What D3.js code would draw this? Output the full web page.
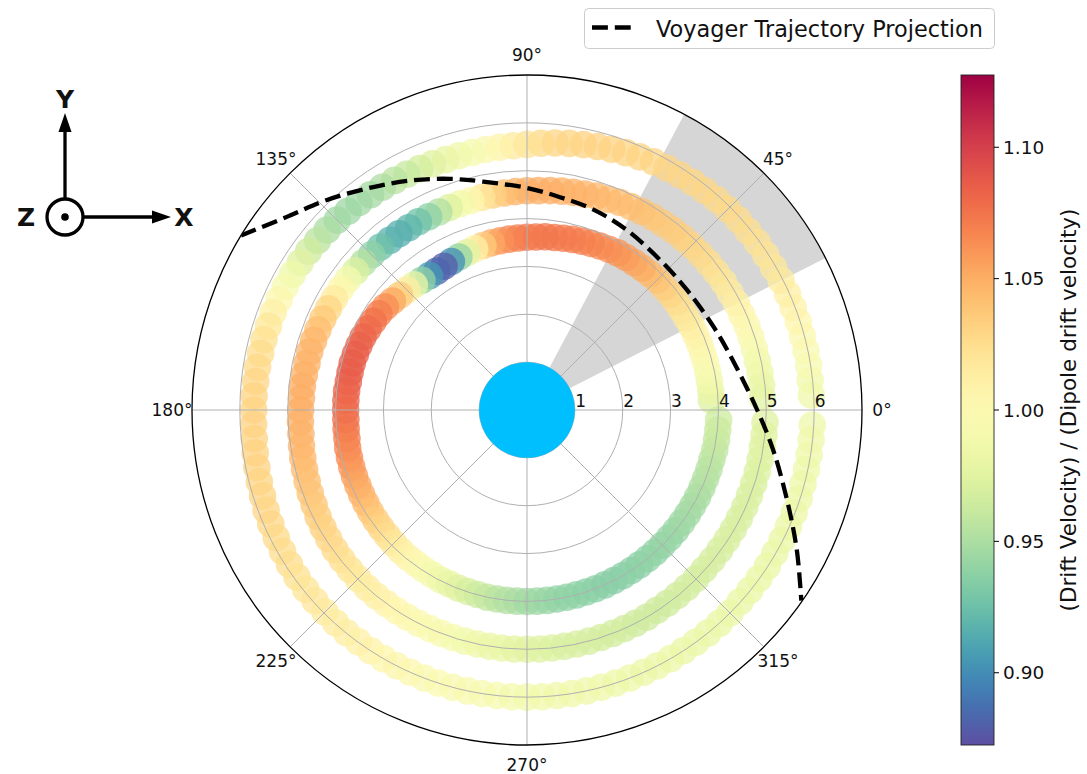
<!DOCTYPE html>
<html>
<head>
<meta charset="utf-8">
<script src="https://cdn.jsdelivr.net/npm/d3@7"></script>
<style>
  body { margin: 0; background: #fff; }
  text { font-family: "DejaVu Sans", sans-serif; fill: #111; }
</style>
</head>
<body>
<svg id="chart" width="1087" height="774"></svg>
<script>
// ---- data -------------------------------------------------------------
// azimuth of each tracked guiding centre (degrees, counter-clockwise from +X)
const ANGLES = [3,6,9,12,15,18,21,24,27,30,33,36,39,42,45,48,51,54,57,60,63,66,69,72,75,78,81,84,87,90,
  93,96,99,102,105,108,111,114,117,120,123,126,129,132,135,138,141,144,147,150,153,156,159,162,165,168,171,174,177,180,
  183,186,189,192,195,198,201,204,207,210,213,216,219,222,225,228,231,234,237,240,243,246,249,252,255,258,261,264,267,270,
  273,276,279,282,285,288,291,294,297,300,303,306,309,312,315,318,321,324,327,330,333,336,339,342,345,348,351,354,357];

// radial distance of each drift shell
const INNER_R = [3.86,3.86,3.86,3.86,3.86,3.86,3.86,3.86,3.86,
  3.85,3.85,3.85,3.85,
  3.84,3.84,3.83,3.82,3.81,3.80,3.79,
  3.77,3.75,3.73,3.71,3.69,3.67,3.65,3.64,3.62,3.61,
  3.60,3.59,3.58,3.57,3.56,3.54,3.52,3.50,3.48,3.47,
  3.46,3.47,3.49,3.52,3.55,3.58,3.62,3.66,3.69,3.71,
  3.73,3.75,3.76,3.77,3.78,3.78,3.78,3.79,3.79,3.79,
  3.79,3.80,3.81,3.83,3.84,3.85,3.86,3.87,3.88,3.89,
  3.90,3.91,3.92,3.93,3.94,3.95,3.96,3.96,3.97,3.97,
  3.98,3.98,3.99,3.99,3.99,
  4.00,4.00,4.00,4.00,4.00,4.00,4.00,4.00,4.00,4.00,
  4.00,4.00,4.00,4.00,4.00,4.00,4.00,4.00,4.00,4.00,
  4.00,4.00,4.00,4.00,4.00,4.00,4.00,4.00,4.00,4.00,
  4.01,4.01,4.01,4.01];
const MIDDLE_R = [4.93,4.93,4.93,4.92,4.92,4.92,4.92,4.91,4.91,4.90,
  4.90,4.89,4.88,4.87,4.86,4.85,4.84,4.82,4.81,4.79,
  4.77,4.75,4.72,4.70,4.67,4.65,4.63,4.61,4.59,4.58,
  4.57,4.56,4.55,4.54,4.53,4.53,4.53,4.53,4.53,4.54,
  4.54,4.55,4.56,4.58,4.59,4.60,4.61,4.63,4.64,4.65,
  4.66,4.67,4.68,4.69,4.70,4.70,4.71,4.72,4.72,4.73,
  4.74,4.75,4.77,4.79,4.81,4.83,4.85,4.87,4.90,4.92,
  4.94,4.96,4.97,4.98,4.99,5.00,5.00,5.00,5.00,5.00,
  5.00,5.00,5.00,5.00,5.00,5.00,5.00,5.00,5.00,5.00,
  5.00,5.00,5.00,5.00,5.00,5.00,5.00,5.00,5.00,5.00,
  4.99,4.99,4.99,4.99,4.99,4.98,4.98,4.98,4.98,4.98,
  4.98,4.98,4.98,4.98,4.98,4.98,4.98,4.98,4.98];
const OUTER_R = [5.95,5.95,5.96,5.96,5.96,5.96,5.96,5.96,5.96,5.95,
  5.95,5.95,5.94,5.94,5.93,5.92,5.90,5.88,5.86,5.84,
  5.82,5.79,5.76,5.73,5.70,5.67,5.64,5.61,5.58,5.55,
  5.53,5.52,5.51,5.50,5.50,5.50,5.51,5.52,5.53,5.54,
  5.55,5.56,5.58,5.59,5.61,5.62,5.63,5.64,5.65,5.66,
  5.67,5.67,5.68,5.68,5.69,5.69,5.70,5.70,5.71,5.71,
  5.72,5.73,5.75,5.77,5.79,5.81,5.84,5.86,5.88,5.90,
  5.92,5.94,5.95,5.96,5.97,5.98,5.99,5.99,6.00,6.00,
  6.00,6.00,6.00,6.00,6.00,6.00,6.00,6.00,6.00,6.00,
  6.00,6.00,6.00,6.00,6.00,6.00,6.00,6.00,6.00,6.00,
  6.00,6.00,6.00,6.00,6.00,5.99,5.99,5.99,5.99,5.98,
  5.98,5.98,5.98,5.98,5.97,5.97,5.97,5.97,5.97];

// drift velocity relative to the dipole value
const INNER_V = [0.972,0.98,0.986,0.992,0.997,1.0,1.004,1.008,1.012,1.016,
  1.02,1.025,1.03,1.035,1.04,1.045,1.05,1.054,1.058,1.061,
  1.064,1.066,1.068,1.07,1.071,1.072,1.073,1.074,1.074,1.073,
  1.072,1.068,1.062,1.053,1.036,1.01,0.975,0.94,0.9,0.878,
  0.882,0.905,0.94,0.98,1.013,1.036,1.053,1.064,1.071,1.076,
  1.079,1.082,1.084,1.085,1.086,1.086,1.085,1.084,1.082,1.08,
  1.078,1.075,1.072,1.069,1.066,1.062,1.058,1.054,1.05,1.046,
  1.041,1.036,1.031,1.026,1.02,1.014,1.008,1.002,0.996,0.99,
  0.985,0.979,0.974,0.969,0.964,0.96,0.956,0.952,0.949,0.946,
  0.944,0.942,0.94,0.939,0.938,0.937,0.937,0.936,0.936,0.936,
  0.937,0.937,0.938,0.939,0.94,0.941,0.942,0.944,0.945,0.947,
  0.948,0.95,0.952,0.954,0.956,0.958,0.96,0.962,0.964];
const MIDDLE_V = [0.975,0.979,0.983,0.986,0.99,0.995,1.0,1.004,1.008,1.013,
  1.017,1.021,1.024,1.027,1.03,1.033,1.035,1.037,1.039,1.041,
  1.043,1.044,1.045,1.046,1.047,1.048,1.049,1.05,1.05,1.05,
  1.048,1.043,1.033,1.02,1.003,0.987,0.972,0.952,0.937,0.926,
  0.919,0.915,0.917,0.925,0.937,0.953,0.971,0.988,1.003,1.017,
  1.029,1.037,1.042,1.046,1.047,1.048,1.049,1.05,1.05,1.05,
  1.049,1.048,1.047,1.046,1.044,1.042,1.04,1.038,1.035,1.033,
  1.03,1.027,1.024,1.021,1.018,1.015,1.012,1.009,1.006,1.003,
  1.0,0.997,0.994,0.991,0.988,0.985,0.982,0.98,0.977,0.975,
  0.973,0.972,0.97,0.969,0.968,0.967,0.966,0.966,0.965,0.965,
  0.965,0.965,0.966,0.966,0.967,0.967,0.968,0.968,0.969,0.969,
  0.97,0.97,0.971,0.971,0.972,0.972,0.973,0.974,0.974];
const OUTER_V = [0.985,0.988,0.992,0.996,1.0,1.005,1.009,1.012,1.015,1.018,
  1.02,1.022,1.024,1.026,1.027,1.028,1.029,1.029,1.03,1.03,
  1.03,1.031,1.031,1.032,1.032,1.032,1.031,1.03,1.028,1.022,
  1.016,1.008,1.0,0.993,0.986,0.98,0.974,0.967,0.961,0.956,
  0.951,0.947,0.945,0.944,0.945,0.949,0.956,0.965,0.974,0.984,
  0.993,1.002,1.011,1.018,1.023,1.026,1.028,1.03,1.031,1.031,
  1.032,1.032,1.032,1.032,1.031,1.031,1.03,1.029,1.028,1.026,
  1.025,1.023,1.021,1.019,1.017,1.015,1.013,1.011,1.009,1.006,
  1.004,1.002,1.0,0.998,0.996,0.994,0.993,0.991,0.99,0.988,
  0.987,0.986,0.986,0.985,0.985,0.984,0.984,0.983,0.983,0.983,
  0.982,0.982,0.982,0.982,0.982,0.982,0.982,0.982,0.982,0.982,
  0.982,0.983,0.983,0.983,0.984,0.984,0.984,0.985,0.985];

// projected spacecraft path (azimuth in degrees, radius)
const TRAJ_THETA = [148.6,141.2,133.6,124.6,116.4,108.4,100.9,90,81.2,71.5,60.9,48.4,36.9,23.9,12.8,0,-9.2,-19.1,-27.4,-34.8];
const TRAJ_R     = [7.0,6.44,6.06,5.66,5.36,5.09,4.86,4.64,4.50,4.41,4.30,4.19,4.18,4.27,4.44,4.81,5.21,5.75,6.35,6.98];

// shaded azimuth sector (degrees)
const SECTOR = [27, 62];
const PLANET_R = 1;
const R_MAX = 7;
const R_TICKS = [1, 2, 3, 4, 5, 6];
const THETA_TICKS = [0, 45, 90, 135, 180, 225, 270, 315];
const CBAR_TICKS = [0.90, 0.95, 1.00, 1.05, 1.10];
const V_DOMAIN = [0.8725, 1.1275];

// ---- layout -----------------------------------------------------------
const svg = d3.select("#chart");
const cx = 527, cy = 410;
const rScale = d3.scaleLinear().domain([0, R_MAX]).range([0, 335]);
const color = d3.scaleSequential(t => d3.interpolateSpectral(1 - t)).domain(V_DOMAIN);
const rad = d => d * Math.PI / 180;
const d3Angle = deg => rad(90 - deg);   // d3 angles run clockwise from north
const px = deg => Math.cos(rad(deg));
const py = deg => -Math.sin(rad(deg));

const defs = svg.append("defs");
defs.append("clipPath").attr("id", "polarClip")
  .append("circle").attr("cx", 0).attr("cy", 0).attr("r", rScale(R_MAX));

// layers, bottom to top
const polar = svg.append("g").attr("transform", `translate(${cx},${cy})`);
const gSector = polar.append("g");
const gPts = polar.append("g");
const gGrid = polar.append("g").attr("fill", "none").attr("stroke", "#b0b0b0").attr("stroke-width", 1);
const gPlanet = polar.append("g");
const gLabels = polar.append("g");
const gTraj = polar.append("g").attr("clip-path", "url(#polarClip)");
const gSpine = polar.append("g");

// shaded sector
gSector.append("path")
  .attr("d", d3.arc()({innerRadius: 0, outerRadius: rScale(R_MAX),
    startAngle: d3Angle(SECTOR[1]), endAngle: d3Angle(SECTOR[0])}))
  .attr("fill", "#d6d6d6");

// drift shells
const shells = [
  {r: INNER_R, v: INNER_V},
  {r: MIDDLE_R, v: MIDDLE_V},
  {r: OUTER_R, v: OUTER_V}
];
shells.forEach(s => {
  gPts.append("g").selectAll("circle")
    .data(ANGLES.map((a, i) => ({a, r: s.r[i], v: s.v[i]})))
    .join("circle")
    .attr("cx", d => rScale(d.r) * px(d.a))
    .attr("cy", d => rScale(d.r) * py(d.a))
    .attr("r", 13.8)
    .attr("fill", d => color(d.v))
    .attr("fill-opacity", 0.75);
});

// grid
gGrid.selectAll("circle").data(R_TICKS).join("circle").attr("r", d => rScale(d));
gGrid.selectAll("line").data(THETA_TICKS).join("line")
  .attr("x1", 0).attr("y1", 0)
  .attr("x2", d => rScale(R_MAX) * px(d))
  .attr("y2", d => rScale(R_MAX) * py(d));

// planet
gPlanet.append("circle").attr("r", rScale(PLANET_R)).attr("fill", "#00bfff");

// radial tick labels
gLabels.selectAll("text.rt").data(R_TICKS).join("text")
  .attr("class", "rt")
  .attr("x", d => rScale(d) + 0.5).attr("y", -3)
  .attr("font-size", 17).text(d => d);

// angular tick labels
gLabels.selectAll("text.at").data(THETA_TICKS).join("text")
  .attr("class", "at")
  .attr("x", d => (rScale(R_MAX) + 20) * px(d))
  .attr("y", d => (rScale(R_MAX) + 20) * py(d))
  .attr("text-anchor", "middle").attr("dominant-baseline", "central")
  .attr("font-size", 17).text(d => d + "°");

// trajectory
const trajLine = d3.lineRadial()
  .angle(d => d3Angle(d[0])).radius(d => rScale(d[1]))
  .curve(d3.curveCatmullRom);
gTraj.append("path")
  .attr("d", trajLine(TRAJ_THETA.map((t, i) => [t, TRAJ_R[i]])))
  .attr("fill", "none").attr("stroke", "#000")
  .attr("stroke-width", 4.3).attr("stroke-dasharray", "15.9 6.9");

// outer boundary
gSpine.append("circle").attr("r", rScale(R_MAX))
  .attr("fill", "none").attr("stroke", "#000").attr("stroke-width", 1.3);

// ---- colourbar --------------------------------------------------------
const cb = {x: 961, y: 75, w: 33, h: 670};
const grad = defs.append("linearGradient")
  .attr("id", "cbGrad").attr("x1", 0).attr("y1", 1).attr("x2", 0).attr("y2", 0);
d3.range(0, 1.0001, 0.02).forEach(t => {
  grad.append("stop").attr("offset", t)
    .attr("stop-color", color(V_DOMAIN[0] + t * (V_DOMAIN[1] - V_DOMAIN[0])));
});
svg.append("rect").attr("x", cb.x).attr("y", cb.y).attr("width", cb.w).attr("height", cb.h)
  .attr("fill", "url(#cbGrad)").attr("stroke", "#222").attr("stroke-width", 0.9);
const cbScale = d3.scaleLinear().domain(V_DOMAIN).range([cb.y + cb.h, cb.y]);
const cbAxis = svg.append("g");
cbAxis.selectAll("line").data(CBAR_TICKS).join("line")
  .attr("x1", cb.x + cb.w).attr("x2", cb.x + cb.w + 5)
  .attr("y1", d => cbScale(d)).attr("y2", d => cbScale(d))
  .attr("stroke", "#000").attr("stroke-width", 1);
cbAxis.selectAll("text").data(CBAR_TICKS).join("text")
  .attr("x", cb.x + cb.w + 9).attr("y", d => cbScale(d))
  .attr("dominant-baseline", "central").attr("font-size", 18.5)
  .text(d => d3.format(".2f")(d));
svg.append("text")
  .attr("transform", `translate(1068,${cb.y + cb.h / 2}) rotate(-90)`)
  .attr("text-anchor", "middle").attr("dominant-baseline", "central")
  .attr("font-size", 21.5)
  .text("(Drift Velocity) / (Dipole drift velocity)");

// ---- legend -----------------------------------------------------------
const lg = svg.append("g");
lg.append("rect").attr("x", 584.5).attr("y", 8.5).attr("width", 410).attr("height", 40)
  .attr("rx", 4).attr("fill", "#fff").attr("stroke", "#cccccc").attr("stroke-width", 1);
lg.append("line").attr("x1", 592).attr("x2", 634).attr("y1", 27.5).attr("y2", 27.5)
  .attr("stroke", "#000").attr("stroke-width", 4.3).attr("stroke-dasharray", "15.9 6.9");
lg.append("text").attr("x", 656).attr("y", 36.5).attr("font-size", 22.4)
  .text("Voyager Trajectory Projection");

// ---- coordinate triad -------------------------------------------------
const triad = svg.append("g").attr("stroke", "#000").attr("fill", "#000");
const o = {x: 65, y: 217};
triad.append("circle").attr("cx", o.x).attr("cy", o.y).attr("r", 18)
  .attr("fill", "none").attr("stroke-width", 3.3);
triad.append("circle").attr("cx", o.x).attr("cy", o.y).attr("r", 3.8).attr("stroke", "none");
triad.append("line").attr("x1", o.x).attr("y1", o.y - 18).attr("x2", o.x).attr("y2", 130)
  .attr("stroke-width", 3.3);
triad.append("path").attr("stroke", "none")
  .attr("d", `M${o.x},113 L${o.x - 6.5},132 L${o.x + 6.5},132 Z`);
triad.append("line").attr("x1", o.x + 18).attr("y1", o.y).attr("x2", 155).attr("y2", o.y)
  .attr("stroke-width", 3.3);
triad.append("path").attr("stroke", "none")
  .attr("d", `M171,${o.y} L152,${o.y - 6.5} L152,${o.y + 6.5} Z`);
const tl = svg.append("g").attr("font-size", 25).attr("font-weight", "bold")
  .attr("text-anchor", "middle").attr("dominant-baseline", "central");
tl.append("text").attr("x", o.x).attr("y", 99).text("Y");
tl.append("text").attr("x", 184).attr("y", o.y).text("X");
tl.append("text").attr("x", 26).attr("y", o.y).text("Z");
</script>
</body>
</html>
